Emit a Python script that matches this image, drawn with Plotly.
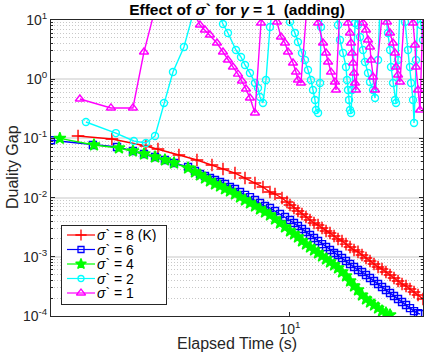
import math
import plotly.graph_objects as go

# ---------------- data ----------------
series_names = ["<i>σ</i>` = 8 (K)", "<i>σ</i>` = 6", "<i>σ</i>` = 4", "<i>σ</i>` = 2", "<i>σ</i>` = 1"]

red_t = [1.531, 2.066, 2.793, 3.107, 3.741, 4.388, 5.012, 5.525, 6.144, 6.714,
         7.334, 7.873, 8.375, 8.756, 9.316, 9.738, 10.0, 10.36, 10.73, 11.12,
         11.52, 11.94, 12.37, 12.82, 13.28, 13.76, 14.25, 14.77, 15.30, 15.85,
         16.42, 17.02, 17.63, 18.26, 18.92, 19.60, 20.31, 21.04, 21.81, 22.59,
         23.39, 24.25, 25.12, 26.03, 26.97, 27.94, 28.94, 29.99, 31.07, 32.47]
red_gap = [0.110, 0.0977, 0.0744, 0.0662, 0.0524, 0.0432, 0.0355, 0.0304, 0.0260, 0.0214,
           0.0176, 0.0151, 0.0124, 0.0115, 0.00984, 0.00843, 0.00750, 0.00667, 0.00594, 0.00528,
           0.00470, 0.00418, 0.00372, 0.00344, 0.00307, 0.00273, 0.00252, 0.00225, 0.00200, 0.00185,
           0.00164, 0.00146, 0.00130, 0.00121, 0.00107, 0.000954, 0.000849, 0.000756, 0.000673, 0.000622,
           0.000554, 0.000493, 0.000438, 0.000390, 0.000347, 0.000321, 0.000286, 0.000254, 0.000226, 0.000194]

blue_t = [1.205, 1.746, 2.162, 2.489, 2.745, 3.027, 3.304, 3.581, 4.055,
          4.311, 4.507, 4.710, 4.923, 5.147, 5.383, 5.623, 5.875, 6.144, 6.424,
          6.714, 7.015, 7.334, 7.666, 8.013, 8.375, 8.756, 9.153, 9.567, 10.0,
          10.36, 10.73, 11.12, 11.52, 11.94, 12.37, 12.82, 13.28, 13.76, 14.25,
          14.77, 15.30, 15.85, 16.42, 17.02, 17.63, 18.26, 18.92, 19.60, 20.31,
          21.04, 21.81, 22.59, 23.39, 24.25, 25.12, 26.03, 26.97, 27.94, 28.94,
          29.99, 31.07, 31.62]
blue_gap = [0.093, 0.0774, 0.0716, 0.0613, 0.0545, 0.0485, 0.0432, 0.0384, 0.0329,
            0.0281, 0.0250, 0.0232, 0.0214, 0.0198, 0.0183, 0.0170, 0.0151, 0.0140, 0.0124,
            0.0111, 0.0102, 0.00911, 0.00811, 0.00721, 0.00667, 0.00594, 0.00528, 0.00470, 0.00418,
            0.00372, 0.00331, 0.00295, 0.00262, 0.00233, 0.00208, 0.00185, 0.00164, 0.00146, 0.00130,
            0.00116, 0.00107, 0.000954, 0.000849, 0.000756, 0.000673, 0.000598, 0.000554, 0.000493, 0.000438,
            0.000390, 0.000347, 0.000309, 0.000275, 0.000245, 0.000218, 0.000194, 0.000172, 0.000153, 0.000136,
            0.000121, 0.000112, 0.000108]

green_t = [1.303, 1.763, 2.199, 2.489, 2.745, 3.027, 3.304, 3.581, 4.055,
           4.311, 4.507, 4.710, 4.923, 5.147, 5.383, 5.623, 5.875, 6.144, 6.424,
           6.714, 7.015, 7.334, 7.666, 8.013, 8.375, 8.756, 9.153, 9.567, 10.0,
           10.36, 10.73, 11.12, 11.52, 11.94, 12.37, 12.82, 13.28, 13.76, 14.25,
           14.77, 15.30, 15.85, 16.42, 17.02, 17.63, 18.26, 18.92, 19.60, 20.31,
           21.04, 21.81, 22.59, 23.39, 24.25]
green_gap = [0.100, 0.0774, 0.0689, 0.0613, 0.0545, 0.0485, 0.0432, 0.0384, 0.0316,
             0.0271, 0.0241, 0.0214, 0.0191, 0.0170, 0.0157, 0.0140, 0.0129, 0.0115, 0.0102,
             0.00911, 0.00811, 0.00721, 0.00642, 0.00571, 0.00508, 0.00435, 0.00372, 0.00319, 0.00273,
             0.00243, 0.00216, 0.00185, 0.00164, 0.00146, 0.00130, 0.00116, 0.00103, 0.000918, 0.000817,
             0.000727, 0.000647, 0.000554, 0.000474, 0.000390, 0.000321, 0.000275, 0.000226, 0.000194, 0.000172,
             0.000153, 0.000136, 0.000121, 0.000112, 0.000104]

cyan_t = [1.642, 2.14, 2.51, 2.793, 3.027, 3.277, 3.548, 3.911, 4.350, 5.285,
          5.525, 5.774, 6.199, 6.480, 6.714, 7.015, 7.334, 7.534, 7.666, 7.873,
          8.086, 8.375, 8.604, 9.567, 10.0, 10.45, 10.73, 11.12, 11.42, 11.73,
          12.04, 12.26, 12.48, 12.59, 12.82, 13.05, 13.16, 13.40, 15.03, 15.30,
          15.57, 15.99, 16.42, 16.57, 16.71, 16.87, 17.02, 17.17, 17.32, 17.78,
          17.94, 18.26, 18.59, 19.09, 19.43, 19.95, 20.31, 20.86, 21.23, 21.81,
          22.19, 23.19, 23.82, 24.25, 24.46, 24.89, 25.34, 25.57, 26.03, 26.49,
          27.69, 28.43, 28.94, 29.20, 29.72, 29.99, 30.52, 31.07, 31.90, 32.47]
cyan_gap = [0.189, 0.123, 0.0904, 0.0836, 0.110, 0.396, 1.32, 3.50, 19.4, 13.7,
            8.56, 6.03, 3.11, 2.37, 1.74, 1.27, 0.863, 0.710, 0.500, 0.396,
            0.969, 7.62, 17.9, 15.9, 9.25, 6.03, 4.25, 2.77, 2.11, 1.43,
            0.969, 0.657, 0.445, 0.302, 0.269, 0.863, 7.62, 17.9, 13.7, 8.23,
            4.59, 2.77, 1.61, 0.969, 0.657, 0.445, 0.302, 0.269, 0.657, 8.90,
            17.9, 8.23, 5.16, 3.11, 1.95, 1.27, 0.897, 0.657, 0.481, 2.11,
            17.9, 14.8, 6.03, 3.11, 1.61, 0.863, 0.445, 0.396, 2.11, 17.9,
            9.25, 3.11, 1.61, 0.863, 0.445, 0.182, 2.11, 17.9, 8.23, 4.59]

mag_t = [1.556, 2.049, 2.489, 2.745, 3.162, 4.311, 4.507, 4.710, 4.923, 5.238,
         5.525, 5.774, 6.035, 6.310, 6.538, 6.773, 7.015, 7.334, 7.735, 7.943,
         8.453, 8.913, 9.234, 9.567, 9.824, 10.27, 10.54, 10.73, 11.02, 11.63,
         12.59, 12.82, 13.40, 13.76, 14.01, 14.38, 14.89, 15.03, 15.57, 16.42,
         16.71, 17.02, 17.17, 17.32, 17.48, 17.63, 17.78, 17.94, 18.59, 19.09,
         19.60, 19.95, 20.31, 20.49, 20.86, 21.23, 22.79, 23.61, 24.25, 24.89,
         25.34, 25.57, 26.03, 26.49, 27.69, 28.94, 29.72, 30.25, 30.52, 31.07,
         31.62, 32.47]
mag_gap = [0.463, 0.327, 0.327, 2.88, 32.1, 12.1, 8.23, 6.78, 5.58, 4.09,
           2.88, 2.11, 1.61, 1.22, 0.933, 0.683, 0.481, 0.269, 8.90, 21.8,
           17.9, 9.25, 5.16, 4.09, 2.88, 1.88, 1.32, 0.969, 0.863, 17.9,
           14.8, 8.90, 4.09, 2.77, 1.95, 1.32, 0.897, 0.657, 17.9, 15.9,
           8.90, 6.03, 4.09, 2.77, 1.88, 1.27, 0.863, 0.657, 17.9, 8.90,
           6.78, 4.59, 3.50, 2.11, 1.09, 0.657, 17.9, 9.25, 6.03, 4.09,
           2.77, 1.61, 1.18, 0.897, 17.9, 14.8, 8.90, 3.78, 1.61, 0.657,
           0.302, 14.8]

x_range = [1.205, 32.47]
y_range = [1e-4, 1e1]
y_tick_vals = [1e-4, 1e-3, 1e-2, 1e-1, 1e0, 1e1]
y_tick_text = ["10<sup>-4</sup>", "10<sup>-3</sup>", "10<sup>-2</sup>",
               "10<sup>-1</sup>", "10<sup>0</sup>", "10<sup>1</sup>"]
x_tick_vals = [10]
x_tick_text = ["10<sup>1</sup>"]

# ---------------- figure ----------------
FONT = "Liberation Sans, Arial, Helvetica, sans-serif"
AX = "#262626"
W, H = 426, 352
ML, MR, MT, MB = 51, 3, 20, 36
PW, PH = W - ML - MR, H - MT - MB

styles = [
    (red_t, red_gap, "#FF0000", "cross-thin", 9),
    (blue_t, blue_gap, "#0000FF", "square-open", 7),
    (green_t, green_gap, "#00FF00", "star", 9),
    (cyan_t, cyan_gap, "#00FFFF", "circle-open", 7),
    (mag_t, mag_gap, "#FF00FF", "triangle-up-open", 8),
]

fig = go.Figure()
for (xs, ys, col, sym, sz), name in zip(styles, series_names):
    fig.add_trace(go.Scatter(
        x=xs, y=ys, name=name, mode="lines+markers", showlegend=False,
        line=dict(color=col, width=1.4),
        marker=dict(symbol=sym, size=sz, color=col, line=dict(color=col, width=1.4)),
        cliponaxis=True,
    ))

# ---- legend drawn in a small overlapping subplot (pixel units inside the box)
LX0, LX1, LY0, LY1 = 62, 166, 226, 304          # legend box in figure pixels
row_y = [9, 23.5, 38, 52.5, 67]                  # row centres inside the box
legend_marker = [8, 6, 8, 6, 8]
for (xs, ys, col, sym, sz), name, yy, lsz in zip(styles, series_names, row_y, legend_marker):
    fig.add_trace(go.Scatter(x=[5, 33], y=[yy, yy], mode="lines", xaxis="x2", yaxis="y2",
                             line=dict(color=col, width=1.2), showlegend=False, hoverinfo="skip"))
    fig.add_trace(go.Scatter(x=[19], y=[yy], mode="markers", xaxis="x2", yaxis="y2",
                             marker=dict(symbol=sym, size=lsz, color=col, line=dict(color=col, width=1.3)),
                             showlegend=False, hoverinfo="skip"))
    fig.add_annotation(x=33, y=yy, xref="x2", yref="y2", text=name, showarrow=False,
                       xanchor="left", yanchor="middle", height=14, valign="middle",
                       font=dict(family=FONT, size=14, color="black"))

minor_vals = [m * 10.0 ** e for e in range(-4, 1) for m in range(2, 10)]

fig.update_layout(
    width=W, height=H,
    margin=dict(l=ML, r=MR, t=MT, b=MB, autoexpand=False),
    paper_bgcolor="white", plot_bgcolor="white",
    font=dict(family=FONT, size=14, color=AX),
    showlegend=False,
    title=dict(text="<b>Effect of <i>σ</i>` for <i>γ</i> = 1 \u00a0(adding)</b>",
               x=(ML + PW / 2) / W, xref="container", y=1 - 10 / H, yref="container",
               xanchor="center", yanchor="middle", automargin=False,
               font=dict(family=FONT, size=15.5, color="black")),
    xaxis2=dict(domain=[(LX0 - ML) / PW, (LX1 - ML) / PW], anchor="y2", range=[0, LX1 - LX0],
                showline=True, mirror=True, linecolor=AX, linewidth=1, showgrid=False,
                zeroline=False, showticklabels=False, ticks="", fixedrange=True, automargin=False),
    yaxis2=dict(domain=[(H - MB - LY1) / PH, (H - MB - LY0) / PH], anchor="x2",
                range=[LY1 - LY0, 0],
                showline=True, mirror=True, linecolor=AX, linewidth=1, showgrid=False,
                zeroline=False, showticklabels=False, ticks="", fixedrange=True, automargin=False),
)
fig.update_layout(
    xaxis=dict(
        type="log", range=[math.log10(x_range[0]), math.log10(x_range[1])],
        tickmode="array", tickvals=x_tick_vals, ticktext=x_tick_text, automargin=False,
        showgrid=False, zeroline=False,
        showline=True, linecolor=AX, linewidth=1, mirror="ticks",
        ticks="inside", ticklen=4, tickcolor=AX,
        tickfont=dict(family=FONT, size=14, color=AX),
    ),
    yaxis=dict(
        type="log", range=[math.log10(y_range[0]), math.log10(y_range[1])],
        tickmode="array", tickvals=y_tick_vals, ticktext=y_tick_text, automargin=False,
        showgrid=True, gridcolor="#e3e3e3", gridwidth=1.5, zeroline=False,
        showline=True, linecolor=AX, linewidth=1, mirror="ticks",
        ticks="inside", ticklen=4, tickcolor=AX,
        tickfont=dict(family=FONT, size=14, color=AX),
        minor=dict(tickmode="array", tickvals=minor_vals, ticks="inside", ticklen=2,
                   tickcolor=AX, showgrid=True, gridcolor="#c8c8c8",
                   griddash="1px,2px", gridwidth=1),
    ),
)

# axis titles
fig.add_annotation(text="Elapsed Time (s)", xref="paper", yref="paper",
                   x=0.5, y=-(343 - (H - MB)) / PH, xanchor="center", yanchor="middle",
                   showarrow=False, font=dict(family=FONT, size=16, color=AX))
fig.add_annotation(text="Duality Gap", xref="paper", yref="paper", textangle=-90,
                   x=(12 - ML) / PW, y=(H - MB - 167) / PH, xanchor="center", yanchor="middle",
                   showarrow=False, font=dict(family=FONT, size=16, color=AX))

fig.write_html("out.html",
               config={"displayModeBar": False},
               post_script="document.body.style.margin='0px';"
                           "document.documentElement.style.margin='0px';"
                           "document.body.style.overflow='hidden';")
